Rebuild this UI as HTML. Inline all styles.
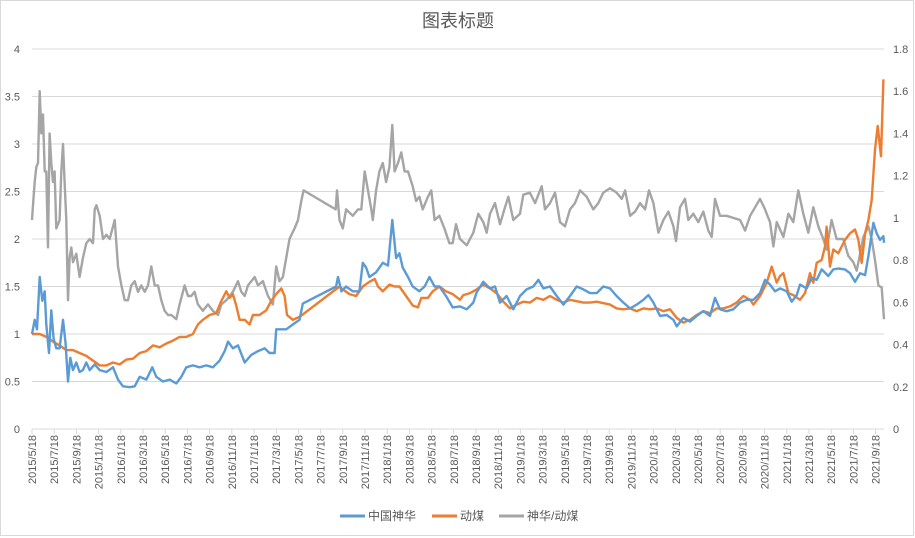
<!DOCTYPE html>
<html><head><meta charset="utf-8"><style>
body{margin:0;background:#fff}
svg{display:block;font-family:"Liberation Sans","Noto Sans CJK SC",sans-serif}
</style></head><body>
<svg id="chart" width="915" height="538" viewBox="0 0 915 538">
<rect x="0.5" y="0.5" width="913" height="535" fill="#fff" stroke="#d9d9d9"/>
<text x="458" y="27" text-anchor="middle" font-size="18" fill="#595959">图表标题</text>
<g id="grid"></g><g id="ylab"></g><g id="y2lab"></g><g id="xlab"></g><g id="series"></g>
<g>
<g><line x1="340" y1="516" x2="365" y2="516" stroke="#5b9bd5" stroke-width="3"/><text x="368" y="520" font-size="12" fill="#595959">中国神华</text></g>
<g><line x1="432" y1="516" x2="457" y2="516" stroke="#ed7d31" stroke-width="3"/><text x="460" y="520" font-size="12" fill="#595959">动煤</text></g>
<g><line x1="499" y1="516" x2="524" y2="516" stroke="#a5a5a5" stroke-width="3"/><text x="527" y="520" font-size="12" fill="#595959">神华/动煤</text></g>
</g>
</svg>
<script>
// months since 2015/5/18
const xLabels=[];
const yTicks=[0,0.5,1,1.5,2,2.5,3,3.5,4];
const y2Ticks=[0,0.2,0.4,0.6,0.8,1,1.2,1.4,1.6,1.8];
const shenhua=[[0,1.0],[0.24,1.15],[0.45,1.05],[0.69,1.6],[0.93,1.35],[1.14,1.45],[1.29,1.1],[1.53,0.8],[1.74,1.25],[1.95,0.95],[2.19,0.85],[2.49,0.85],[2.79,1.15],[3.03,0.9],[3.24,0.5],[3.45,0.75],[3.69,0.62],[3.99,0.7],[4.29,0.6],[4.59,0.62],[4.89,0.7],[5.2,0.62],[5.65,0.68],[6.1,0.62],[6.7,0.6],[7.3,0.65],[7.75,0.52],[8.2,0.45],[8.8,0.44],[9.25,0.45],[9.7,0.55],[10.3,0.52],[10.84,0.65],[11.2,0.55],[11.8,0.5],[12.4,0.52],[13.0,0.48],[13.45,0.55],[13.9,0.65],[14.5,0.67],[15.1,0.65],[15.7,0.67],[16.3,0.65],[16.9,0.72],[17.36,0.82],[17.66,0.92],[18.1,0.85],[18.56,0.88],[19.16,0.7],[19.76,0.78],[20.36,0.82],[20.96,0.85],[21.4,0.8],[21.86,0.8],[22.0,1.05],[22.46,1.05],[22.9,1.05],[23.5,1.1],[24.1,1.15],[24.4,1.32],[27.4,1.5],[27.57,1.6],[27.87,1.45],[28.3,1.5],[28.9,1.45],[29.5,1.45],[29.8,1.75],[30.1,1.7],[30.4,1.6],[31.0,1.65],[31.6,1.75],[32.07,1.72],[32.46,2.2],[32.8,1.8],[33.1,1.85],[33.4,1.7],[33.87,1.6],[34.3,1.5],[34.9,1.45],[35.37,1.5],[35.8,1.6],[36.27,1.5],[36.7,1.5],[37.3,1.4],[37.9,1.28],[38.56,1.29],[39.16,1.26],[39.76,1.33],[40.06,1.44],[40.66,1.55],[41.26,1.48],[41.71,1.5],[42.16,1.33],[42.76,1.4],[43.36,1.26],[43.96,1.4],[44.56,1.47],[45.16,1.5],[45.62,1.57],[46.07,1.48],[46.67,1.5],[47.27,1.4],[47.87,1.31],[48.47,1.4],[49.07,1.5],[49.67,1.47],[50.27,1.43],[50.87,1.43],[51.47,1.5],[52.07,1.48],[52.67,1.4],[53.28,1.33],[53.88,1.27],[54.48,1.31],[55.08,1.36],[55.53,1.41],[55.98,1.33],[56.58,1.19],[57.18,1.2],[57.78,1.15],[58.08,1.08],[58.68,1.17],[59.28,1.13],[59.88,1.19],[60.48,1.24],[61.08,1.19],[61.53,1.38],[61.98,1.26],[62.58,1.24],[63.18,1.26],[63.79,1.33],[64.39,1.36],[64.99,1.36],[65.59,1.43],[66.04,1.57],[66.49,1.52],[66.94,1.45],[67.39,1.48],[67.99,1.45],[68.44,1.34],[68.89,1.41],[69.19,1.52],[69.79,1.48],[70.24,1.59],[70.69,1.57],[71.14,1.68],[71.74,1.61],[72.19,1.68],[72.64,1.69],[73.24,1.68],[73.69,1.64],[74.14,1.55],[74.6,1.64],[75.05,1.62],[75.35,1.82],[75.8,2.17],[76.1,2.06],[76.4,1.99],[76.7,2.03],[76.76,1.96]];
const dongmei=[[0,1.0],[0.69,1.0],[1.29,0.97],[1.89,0.92],[2.49,0.88],[3.09,0.83],[3.69,0.83],[4.29,0.8],[4.89,0.77],[5.5,0.72],[6.1,0.67],[6.7,0.67],[7.3,0.7],[7.9,0.68],[8.5,0.73],[9.1,0.74],[9.7,0.8],[10.3,0.82],[10.9,0.88],[11.5,0.86],[12.1,0.9],[12.7,0.93],[13.3,0.97],[13.9,0.97],[14.5,1.0],[14.95,1.1],[15.4,1.15],[16.0,1.2],[16.6,1.22],[17.06,1.35],[17.5,1.45],[17.8,1.38],[18.1,1.42],[18.4,1.3],[18.7,1.15],[19.16,1.15],[19.6,1.1],[19.9,1.2],[20.5,1.2],[21.1,1.25],[21.56,1.35],[22.0,1.42],[22.46,1.48],[22.76,1.4],[22.97,1.2],[23.5,1.15],[24.1,1.18],[27.7,1.5],[28.0,1.47],[28.6,1.42],[29.2,1.4],[29.8,1.5],[30.4,1.55],[30.87,1.58],[31.17,1.5],[31.6,1.45],[32.2,1.52],[32.67,1.5],[33.1,1.5],[33.7,1.4],[34.3,1.3],[34.77,1.28],[35.07,1.38],[35.67,1.38],[36.1,1.45],[36.7,1.5],[37.3,1.45],[37.9,1.42],[38.56,1.36],[38.86,1.41],[39.46,1.43],[40.06,1.47],[40.66,1.52],[41.26,1.48],[41.86,1.43],[42.46,1.34],[43.06,1.27],[43.66,1.31],[44.26,1.34],[44.86,1.33],[45.47,1.38],[46.07,1.36],[46.67,1.4],[47.27,1.36],[47.87,1.33],[48.47,1.36],[49.67,1.33],[50.27,1.33],[50.87,1.34],[52.07,1.31],[52.67,1.27],[53.28,1.26],[53.88,1.27],[54.48,1.24],[55.08,1.27],[55.68,1.26],[56.28,1.27],[56.88,1.24],[57.48,1.26],[58.08,1.17],[58.68,1.12],[59.28,1.15],[59.88,1.2],[60.48,1.24],[61.08,1.22],[61.68,1.27],[62.28,1.27],[62.88,1.29],[63.48,1.33],[64.09,1.4],[64.69,1.36],[64.99,1.31],[65.59,1.4],[66.19,1.54],[66.64,1.71],[67.09,1.54],[67.39,1.61],[67.69,1.64],[68.14,1.43],[68.59,1.41],[69.19,1.36],[69.64,1.43],[70.09,1.64],[70.39,1.54],[70.69,1.75],[71.14,1.78],[71.44,1.92],[71.59,2.13],[71.89,1.71],[72.19,1.89],[72.64,1.85],[73.24,1.99],[73.69,2.06],[74.14,2.1],[74.45,1.99],[74.75,1.75],[75.05,2.06],[75.35,2.2],[75.65,2.41],[75.95,2.94],[76.19,3.19],[76.49,2.87],[76.7,3.68]];
const ratio=[[0,0.99],[0.09,1.06],[0.24,1.17],[0.39,1.24],[0.54,1.26],[0.69,1.6],[0.84,1.4],[0.99,1.49],[1.14,1.22],[1.29,1.22],[1.44,0.86],[1.59,1.4],[1.74,1.26],[1.89,1.17],[2.04,1.22],[2.19,0.95],[2.34,0.97],[2.49,0.99],[2.64,1.22],[2.79,1.35],[2.94,1.17],[3.09,0.99],[3.24,0.61],[3.39,0.81],[3.54,0.86],[3.69,0.79],[3.99,0.83],[4.29,0.72],[4.59,0.81],[4.89,0.88],[5.2,0.9],[5.5,0.88],[5.65,1.04],[5.8,1.06],[6.1,1.01],[6.4,0.9],[6.7,0.92],[7.0,0.9],[7.45,0.99],[7.75,0.77],[8.05,0.68],[8.35,0.61],[8.65,0.61],[8.95,0.68],[9.25,0.7],[9.55,0.65],[9.85,0.68],[10.15,0.65],[10.45,0.68],[10.75,0.77],[11.05,0.68],[11.35,0.68],[11.65,0.61],[11.95,0.56],[12.25,0.54],[12.55,0.54],[13.0,0.52],[13.3,0.59],[13.75,0.68],[14.05,0.63],[14.35,0.63],[14.65,0.65],[14.95,0.59],[15.4,0.56],[15.86,0.59],[16.3,0.56],[16.76,0.54],[17.06,0.59],[17.5,0.61],[17.8,0.63],[18.1,0.65],[18.56,0.7],[18.86,0.65],[19.16,0.63],[19.46,0.68],[19.76,0.7],[20.06,0.72],[20.36,0.68],[20.8,0.7],[21.26,0.63],[21.7,0.59],[22.0,0.77],[22.3,0.7],[22.6,0.72],[22.9,0.81],[23.2,0.9],[23.66,0.95],[23.96,0.99],[24.26,1.08],[24.47,1.13],[27.36,1.04],[27.48,1.13],[27.7,0.99],[28.0,0.95],[28.3,1.04],[28.9,1.01],[29.37,1.04],[29.67,1.04],[29.97,1.22],[30.27,1.13],[30.57,1.04],[30.7,0.99],[31.0,1.13],[31.3,1.22],[31.6,1.26],[31.9,1.17],[32.2,1.24],[32.46,1.44],[32.67,1.22],[32.97,1.26],[33.27,1.31],[33.57,1.22],[33.87,1.22],[34.3,1.15],[34.6,1.08],[34.9,1.1],[35.2,1.04],[35.67,1.1],[35.97,1.13],[36.27,0.99],[36.7,1.01],[37.15,0.95],[37.6,0.88],[37.9,0.88],[38.2,0.97],[38.56,0.90],[39.16,0.87],[39.76,0.93],[40.21,1.02],[40.66,0.98],[40.96,0.93],[41.26,1.02],[41.71,1.07],[42.16,0.97],[42.61,1.05],[42.91,1.1],[43.36,0.99],[43.96,1.02],[44.26,1.11],[44.86,1.12],[45.32,1.07],[45.92,1.15],[46.22,1.04],[46.67,1.07],[47.12,1.12],[47.57,0.98],[48.02,0.96],[48.47,1.04],[48.92,1.07],[49.37,1.13],[49.97,1.1],[50.57,1.04],[51.02,1.07],[51.47,1.12],[52.07,1.14],[52.67,1.12],[53.13,1.09],[53.43,1.13],[53.88,1.01],[54.33,1.03],[54.78,1.07],[55.23,1.04],[55.59,1.13],[55.98,1.07],[56.43,0.93],[56.88,0.99],[57.33,1.03],[57.78,0.96],[58.02,0.89],[58.38,1.05],[58.83,1.09],[59.13,0.99],[59.58,1.02],[60.03,0.98],[60.48,1.03],[60.93,0.94],[61.23,0.91],[61.53,1.09],[61.98,1.01],[62.58,1.01],[63.18,1.0],[63.79,0.99],[64.24,0.94],[64.69,1.01],[65.14,1.05],[65.59,1.09],[66.04,1.04],[66.49,0.98],[66.79,0.865],[67.09,0.98],[67.69,0.91],[68.14,1.02],[68.59,0.98],[69.04,1.13],[69.49,1.02],[69.94,0.93],[70.39,1.05],[70.84,0.96],[71.29,0.9],[71.59,0.85],[72.04,0.99],[72.49,0.9],[73.09,0.9],[73.54,0.82],[73.99,0.79],[74.3,0.75],[74.6,0.83],[74.9,0.91],[75.35,0.96],[75.65,0.9],[75.95,0.8],[76.25,0.68],[76.55,0.67],[76.76,0.52]];
(function(){for(let y=2015;y<=2021;y++)for(const mo of [1,3,5,7,9,11]){if(y===2015&&mo<5)continue;if(y===2021&&mo>9)continue;xLabels.push(y+'/'+mo+'/18');}})();
const NS='http://www.w3.org/2000/svg';
const L=32,T=49,B=429,MPX=11.1;
const xs=m=>L+m*MPX;
const ys=v=>B-(B-T)*v/4;
const y2s=v=>B-(B-T)*v/1.8;
function mk(tag,attrs,parent){const e=document.createElementNS(NS,tag);for(const k in attrs)e.setAttribute(k,attrs[k]);parent.appendChild(e);return e;}
const grid=document.getElementById('grid');
yTicks.forEach(v=>{const l=mk('line',{x1:L,x2:884,y1:ys(v),y2:ys(v),stroke:'#d9d9d9','stroke-width':1},grid);


const t=mk('text',{x:20,y:ys(v)+4,'text-anchor':'end','font-size':11,fill:'#595959'},document.getElementById('ylab'));t.textContent=String(v);

});
y2Ticks.forEach(v=>{const t=mk('text',{x:893,y:y2s(v)+4,'font-size':11,fill:'#595959'},document.getElementById('y2lab'));t.textContent=String(v);

});
const xl=document.getElementById('xlab');
xLabels.forEach((s,i)=>{const x=xs(i*2);
const tk=mk('line',{x1:x,x2:x,y1:B,y2:B+5,stroke:'#d9d9d9'},xl);


const t=mk('text',{x:0,y:0,'text-anchor':'end','font-size':11,fill:'#595959',transform:'translate('+(x+4)+','+(B+6)+') rotate(-90)'},xl);t.textContent=s;

});
const sg=document.getElementById('series');
function draw(data,sc,color,name){const d=data.map((p,i)=>(i?'L':'M')+xs(p[0]).toFixed(1)+','+sc(p[1]).toFixed(1)).join('');
const p=mk('path',{d:d,fill:'none',stroke:color,'stroke-width':2.4,'stroke-linejoin':'round'},sg);

}
draw(ratio,y2s,'#a5a5a5','series-ratio-line');
draw(dongmei,ys,'#ed7d31','series-dongmei-line');
draw(shenhua,ys,'#5b9bd5','series-shenhua-line');
</script>
</body></html>
